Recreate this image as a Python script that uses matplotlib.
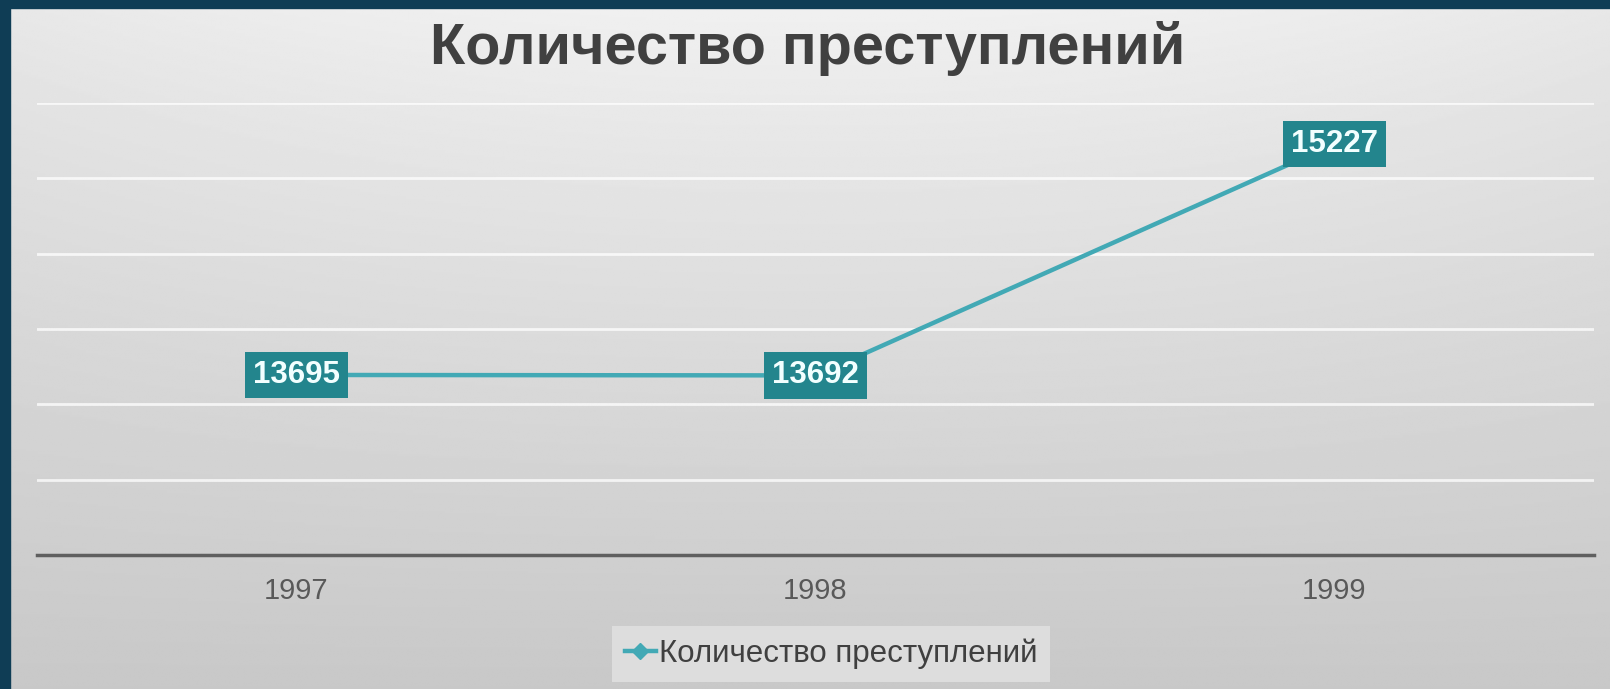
import numpy as np
import matplotlib.pyplot as plt
from matplotlib.patches import Rectangle

# datos del gráfico
anios = ['1997', '1998', '1999']
delitos = [13695, 13692, 15227]
titulo = 'Количество преступлений'
serie = 'Количество преступлений'

plt.rcParams['font.family'] = ['Liberation Sans', 'DejaVu Sans']

fig = plt.figure(figsize=(16.1, 6.89), dpi=100)

# fondo gris con degradado
bg = fig.add_axes([0, 0, 1, 1], zorder=-10)
yy, xx = np.mgrid[0:1:300j, 0:1:700j]
gris = 0.945 - 0.16 * yy ** 0.9 - 0.035 * (2 * np.abs(xx - 0.5)) ** 2 * (1 - yy)
bg.imshow(gris, cmap='gray', vmin=0, vmax=1, aspect='auto', extent=[0, 1, 0, 1], origin='upper')
bg.add_patch(Rectangle((0, 0), 10 / 1610, 1, color='#0f3d55', transform=bg.transAxes))
bg.add_patch(Rectangle((0, 1 - 8 / 689), 1, 8 / 689, color='#0f3d55', transform=bg.transAxes))
bg.set_xlim(0, 1)
bg.set_ylim(0, 1)
bg.axis('off')

# área del gráfico
ax = fig.add_axes([37 / 1610, 134 / 689, 1557 / 1610, 452 / 689])
ax.patch.set_alpha(0)
x = np.arange(len(anios))
ax.plot(x, delitos, color='#42a9b5', lw=3.2, marker='D', markersize=8,
        label=serie, zorder=3)

for xi, v in zip(x, delitos):
    ax.text(xi, v, str(v), ha='center', va='center', fontsize=22.5, fontweight='bold',
            color='#f2ffff', zorder=4,
            bbox=dict(boxstyle='square,pad=0.26', fc='#23858d', ec='none'))

ax.set_xlim(-0.5, 2.5)
ax.set_ylim(12500, 15500)
ax.set_yticks(np.arange(13000, 15501, 500))
ax.yaxis.grid(True, color='white', lw=2, alpha=0.75)
ax.set_axisbelow(True)
ax.tick_params(axis='y', left=False, labelleft=False)
ax.set_xticks(x)
ax.set_xticklabels(anios, fontsize=21, color='#595959')
ax.tick_params(axis='x', length=0, pad=16)
for s in ['top', 'left', 'right']:
    ax.spines[s].set_visible(False)
ax.spines['bottom'].set_color('#5f5f5f')
ax.spines['bottom'].set_linewidth(2.5)

# título
fig.text(808 / 1610, 1 - 49 / 689, titulo, ha='center', va='center',
         fontsize=41.5, fontweight='bold', color='#404040')

# leyenda
ax.legend(loc='center', bbox_to_anchor=(831 / 1610, 35 / 689), bbox_transform=fig.transFigure,
          frameon=True, facecolor='#dddddd', edgecolor='none', fancybox=False, framealpha=1,
          fontsize=22.5, handlelength=1.0, handletextpad=0.1, labelcolor='#404040')

fig.savefig('out.png', dpi=100)
